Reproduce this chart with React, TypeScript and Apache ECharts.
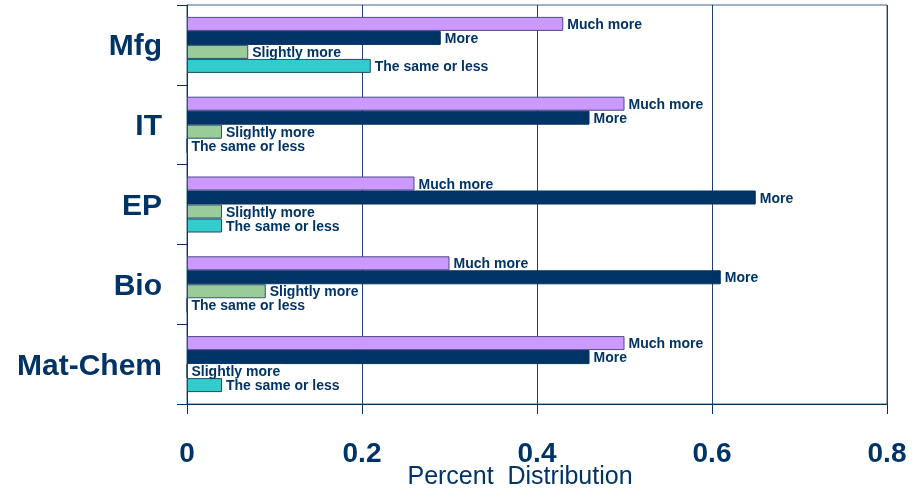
import React, { useEffect, useRef } from "react";
import * as echarts from "echarts";

const categories = ["Mfg", "IT", "EP", "Bio", "Mat-Chem"];
const seriesNames = ["Much more", "More", "Slightly more", "The same or less"];
const muchMore = [0.43, 0.5, 0.26, 0.3, 0.5];
const more = [0.29, 0.46, 0.65, 0.61, 0.46];
const slightlyMore = [0.07, 0.04, 0.04, 0.09, 0];
const sameOrLess = [0.21, 0, 0.04, 0, 0.04];
const xTicks = [0, 0.2, 0.4, 0.6, 0.8];

const NAVY = "#003366";
const FONT = "'Liberation Sans', Arial, sans-serif";
const colors = ["#cc99ff", "#003366", "#99cc99", "#33cccc"];
const borderColors = ["#4a4a8a", "#003366", "#2d4f6e", "#1f4a70"];

export default function App() {
  const ref = useRef<HTMLDivElement>(null);
  useEffect(() => {
    if (!ref.current) return;
    const chart = echarts.init(ref.current, undefined, { renderer: "svg" });
    const values = [muchMore, more, slightlyMore, sameOrLess];
    chart.setOption({
      animation: false,
      textStyle: { fontFamily: FONT },
      grid: {
        left: 187,
        right: 29,
        top: 5,
        bottom: 88,
        containLabel: false,
        outerBoundsMode: "none",
        show: true,
        borderColor: "#3a6090",
        borderWidth: 1,
        backgroundColor: "transparent",
      },
      xAxis: {
        type: "value",
        min: xTicks[0],
        max: xTicks[xTicks.length - 1],
        interval: 0.2,
        name: "Percent  Distribution",
        nameLocation: "middle",
        nameGap: 60,
        nameMoveOverlap: false,
        nameTextStyle: {
          fontSize: 25,
          lineHeight: 22,
          color: NAVY,
          fontFamily: FONT,
          padding: [0, 34, 0, 0],
        },
        axisLine: { show: true, lineStyle: { color: NAVY, width: 1 } },
        axisTick: { show: true, length: 10, lineStyle: { color: NAVY } },
        axisLabel: {
          fontSize: 28,
          lineHeight: 22,
          fontWeight: "bold",
          color: NAVY,
          margin: 37,
          fontFamily: FONT,
          formatter: (v: number) => (v === 0 ? "0" : String(+v.toFixed(1))),
        },
        splitLine: { show: true, lineStyle: { color: "#1f4070", width: 1 } },
      },
      yAxis: {
        type: "category",
        data: categories,
        inverse: true,
        axisLine: { show: true, lineStyle: { color: NAVY, width: 1 } },
        axisTick: { show: true, length: 10, lineStyle: { color: NAVY } },
        axisLabel: {
          fontSize: 30,
          fontWeight: "bold",
          color: NAVY,
          margin: 25,
          fontFamily: FONT,
        },
        splitLine: { show: false },
      },
      series: seriesNames.map((name, i) => ({
        name,
        type: "bar",
        data: values[i],
        barWidth: 14,
        barGap: "0%",
        itemStyle: {
          color: colors[i],
          borderColor: borderColors[i],
          borderWidth: 1,
        },
        label: {
          show: true,
          position: "right",
          distance: 1,
          formatter: () => name,
          fontSize: 14,
          lineHeight: 13,
          fontWeight: "bold",
          color: NAVY,
          fontFamily: FONT,
          backgroundColor: "#ffffff",
          padding: [0, 3, 0, 3],
        },
      })),
    });
    return () => chart.dispose();
  }, []);
  return (
    <div
      ref={ref}
      style={{ position: "fixed", left: 0, top: 0, width: 916, height: 492 }}
    />
  );
}
